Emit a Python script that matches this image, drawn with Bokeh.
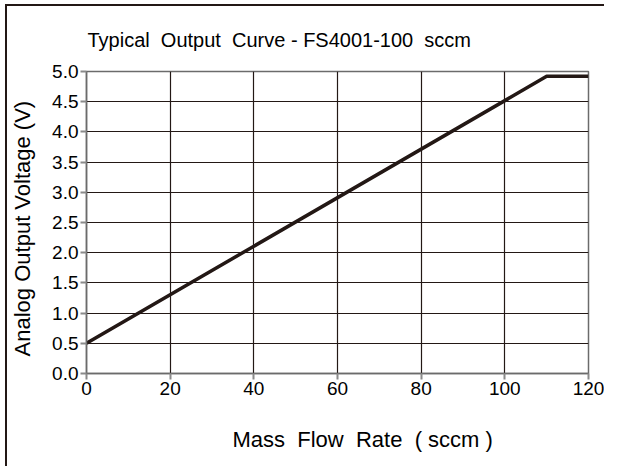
from bokeh.plotting import figure
from bokeh.models import Title, FixedTicker, Range1d
from bokeh.embed import file_html
from bokeh.resources import INLINE

# data
flow = [0, 110, 120]
voltage = [0.5, 4.92, 4.92]
x_ticks = [0, 20, 40, 60, 80, 100, 120]
y_ticks = [0.0, 0.5, 1.0, 1.5, 2.0, 2.5, 3.0, 3.5, 4.0, 4.5, 5.0]
NB = "\u00a0"
title_text = f"Typical {NB}Output {NB}Curve - FS4001-100 {NB}sccm"
x_label = f"Mass {NB}Flow {NB}Rate {NB}( sccm )"
y_label = f"Analog Output Voltage (V){NB}{NB}"

FONT = "Liberation Sans"
DARK = "#231815"

p = figure(width=596, height=446, output_backend="svg", toolbar_location=None,
           x_range=Range1d(0, 120), y_range=Range1d(0, 5),
           frame_width=502, frame_height=302,
           min_border_left=76, min_border_top=63, min_border_right=16, min_border_bottom=81)
p.styles = {"border-left": "2px solid " + DARK, "border-top": "2px solid " + DARK,
            "margin-left": "5px", "margin-top": "4px"}

p.line(flow, voltage, line_color=DARK, line_width=3.5)

p.outline_line_color = "#6b6b6b"
p.outline_line_width = 1.5
p.background_fill_color = "white"
p.border_fill_color = "white"

for g in (p.xgrid[0], p.ygrid[0]):
    g.grid_line_color = DARK
    g.grid_line_width = 1.2
p.xgrid[0].ticker = FixedTicker(ticks=x_ticks)
p.ygrid[0].ticker = FixedTicker(ticks=y_ticks)

xa = p.xaxis[0]
ya = p.yaxis[0]
xa.ticker = FixedTicker(ticks=x_ticks)
ya.ticker = FixedTicker(ticks=y_ticks)
ya.major_label_overrides = {v: f"{v:.1f}" for v in y_ticks}
for ax in (xa, ya):
    ax.axis_line_color = "#6b6b6b"
    ax.axis_line_width = 1.5
    ax.major_tick_line_color = "#8a8a8a"
    ax.major_tick_line_width = 2
    ax.major_tick_out = 6
    ax.major_tick_in = 0
    ax.minor_tick_line_color = None
    ax.major_label_text_font = FONT
    ax.major_label_text_font_size = "19px"
    ax.major_label_text_color = "black"
    ax.major_label_standoff = 2

ya.axis_label = y_label
ya.axis_label_text_font = FONT
ya.axis_label_text_font_size = "22px"
ya.axis_label_text_font_style = "normal"
ya.axis_label_text_color = "black"
ya.axis_label_standoff = 14

p.title.text = title_text
p.title.align = "left"
p.title.offset = 1
p.title.text_font = FONT
p.title.text_font_size = "20px"
p.title.text_font_style = "normal"
p.title.text_color = "black"
p.title.text_line_height = 1.0
p.title.standoff = 41

xt = Title(text=x_label, align="left", offset=146, text_font=FONT,
           text_font_size="22px", text_font_style="normal", text_color="black",
           standoff=54)
p.add_layout(xt, "below")

open("out.html", "w").write(file_html(p, INLINE))
